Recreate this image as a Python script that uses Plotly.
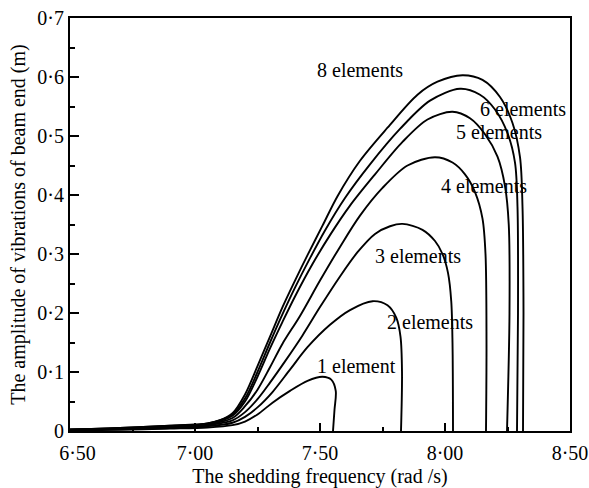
import plotly.graph_objects as go

# ---- data ----
x_1el = [6.50, 6.70, 6.90, 7.05, 7.15, 7.20, 7.25, 7.31, 7.38, 7.45, 7.51, 7.545, 7.563, 7.558, 7.552]
y_1el = [0.001, 0.002, 0.004, 0.006, 0.010, 0.016, 0.028, 0.048, 0.068, 0.085, 0.092, 0.087, 0.068, 0.036, 0.0]

x_2el = [6.50, 6.70, 6.90, 7.05, 7.15, 7.20, 7.25, 7.31, 7.38, 7.45, 7.54, 7.62, 7.71, 7.77, 7.805, 7.822, 7.828, 7.824]
y_2el = [0.002, 0.003, 0.005, 0.008, 0.014, 0.024, 0.040, 0.066, 0.104, 0.142, 0.180, 0.205, 0.220, 0.213, 0.192, 0.160, 0.100, 0.0]

x_3el = [6.50, 6.70, 6.90, 7.05, 7.15, 7.20, 7.25, 7.30, 7.36, 7.43, 7.50, 7.58, 7.65, 7.72, 7.78, 7.83, 7.91, 7.96, 7.99, 8.012, 8.025, 8.030, 8.032]
y_3el = [0.002, 0.004, 0.006, 0.010, 0.018, 0.032, 0.054, 0.082, 0.118, 0.162, 0.210, 0.262, 0.303, 0.334, 0.347, 0.351, 0.341, 0.322, 0.300, 0.268, 0.220, 0.150, 0.0]

x_4el = [6.50, 6.70, 6.90, 7.05, 7.15, 7.20, 7.25, 7.30, 7.35, 7.42, 7.50, 7.58, 7.66, 7.75, 7.85, 7.96, 8.03, 8.08, 8.12, 8.15, 8.162, 8.166, 8.164]
y_4el = [0.002, 0.004, 0.007, 0.011, 0.022, 0.042, 0.070, 0.108, 0.148, 0.195, 0.255, 0.312, 0.365, 0.412, 0.450, 0.464, 0.455, 0.435, 0.405, 0.360, 0.300, 0.150, 0.0]

x_5el = [6.50, 6.70, 6.90, 7.05, 7.15, 7.20, 7.25, 7.30, 7.35, 7.40, 7.47, 7.54, 7.62, 7.72, 7.83, 7.93, 8.03, 8.10, 8.16, 8.21, 8.24, 8.255, 8.258, 8.248]
y_5el = [0.002, 0.004, 0.008, 0.012, 0.026, 0.050, 0.092, 0.140, 0.185, 0.228, 0.283, 0.332, 0.382, 0.435, 0.490, 0.528, 0.541, 0.530, 0.503, 0.465, 0.415, 0.350, 0.200, 0.0]

x_6el = [6.50, 6.70, 6.90, 7.05, 7.15, 7.20, 7.25, 7.30, 7.35, 7.40, 7.46, 7.52, 7.60, 7.70, 7.82, 7.94, 8.06, 8.14, 8.20, 8.25, 8.28, 8.29, 8.292, 8.288]
y_6el = [0.002, 0.005, 0.009, 0.013, 0.028, 0.055, 0.100, 0.150, 0.198, 0.243, 0.293, 0.340, 0.395, 0.452, 0.512, 0.560, 0.580, 0.570, 0.545, 0.505, 0.455, 0.380, 0.200, 0.0]

x_8el = [6.50, 6.70, 6.90, 7.05, 7.10, 7.15, 7.20, 7.25, 7.30, 7.35, 7.40, 7.45, 7.51, 7.57, 7.66, 7.77, 7.89, 7.97, 8.07, 8.15, 8.22, 8.27, 8.30, 8.31, 8.314, 8.312]
y_8el = [0.002, 0.005, 0.009, 0.013, 0.018, 0.030, 0.062, 0.110, 0.160, 0.210, 0.255, 0.298, 0.348, 0.398, 0.458, 0.514, 0.570, 0.592, 0.603, 0.595, 0.566, 0.522, 0.464, 0.380, 0.200, 0.0]

label_text = ["1 element", "2 elements", "3 elements", "4 elements", "5 elements", "6 elements", "8 elements"]
label_x = [7.644, 7.94, 7.892, 8.156, 8.216, 8.312, 7.66]
label_y = [0.110, 0.185, 0.297, 0.415, 0.507, 0.546, 0.612]

x_tickvals = [6.5, 7.0, 7.5, 8.0, 8.5]
x_ticktext = ["\u00a0\u00a0\u00a06·50", "7·00", "7·50", "8·00", "8·50"]
y_tickvals = [0, 0.1, 0.2, 0.3, 0.4, 0.5, 0.6, 0.7]
y_ticktext = ["0", "0·1", "0·2", "0·3", "0·4", "0·5", "0·6", "0·7"]

FONT = "Liberation Serif, Times New Roman, serif"

fig = go.Figure()
for xs, ys in [(x_1el, y_1el), (x_2el, y_2el), (x_3el, y_3el), (x_4el, y_4el),
               (x_5el, y_5el), (x_6el, y_6el), (x_8el, y_8el)]:
    fig.add_trace(go.Scatter(x=xs, y=ys, mode="lines",
                             line=dict(color="black", width=1.9, shape="spline", smoothing=0.9),
                             showlegend=False, hoverinfo="skip"))

for t, lx, ly in zip(label_text, label_x, label_y):
    fig.add_annotation(x=lx, y=ly, text=t, showarrow=False,
                       font=dict(family=FONT, size=20, color="black"))

fig.update_layout(
    width=589, height=488,
    margin=dict(l=70, r=19, t=18, b=57),
    paper_bgcolor="white", plot_bgcolor="white",
    font=dict(family=FONT, size=20, color="black"),
    showlegend=False,
)
fig.update_xaxes(
    range=[6.5, 8.5], tickvals=x_tickvals, ticktext=x_ticktext,
    ticks="inside", ticklen=8, tickwidth=1.5, tickcolor="black",
    minor=dict(tickvals=[6.75, 7.25, 7.75, 8.25], ticks="inside", ticklen=4, tickwidth=1.5, tickcolor="black"),
    showline=True, linecolor="black", linewidth=2, mirror=True,
    showgrid=False, zeroline=False, ticklabelstandoff=3, automargin=False,
    title=dict(text="The shedding frequency (rad /s)", font=dict(family=FONT, size=20), standoff=8),
    tickfont=dict(family=FONT, size=20),
)
fig.update_yaxes(
    range=[0, 0.7], tickvals=y_tickvals, ticktext=y_ticktext,
    ticks="inside", ticklen=9, tickwidth=1.5, tickcolor="black",
    minor=dict(tickvals=[0.05, 0.15, 0.25, 0.35, 0.45, 0.55, 0.65], ticks="inside", ticklen=5, tickwidth=1.5, tickcolor="black"),
    showline=True, linecolor="black", linewidth=2, mirror=True,
    showgrid=False, zeroline=False, automargin=False,
    title=dict(text="The amplitude of vibrations of beam end (m)", font=dict(family=FONT, size=20), standoff=6),
    tickfont=dict(family=FONT, size=20),
)

fig.write_html("out.html")
